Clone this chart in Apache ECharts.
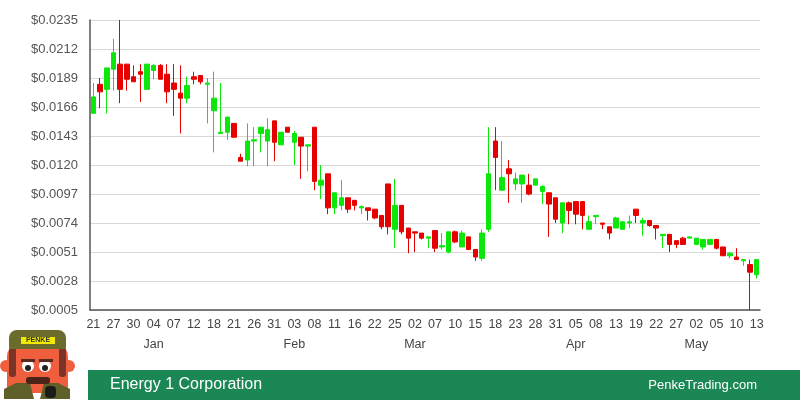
<!DOCTYPE html>
<html>
<head>
<meta charset="utf-8">
<script src="https://cdn.jsdelivr.net/npm/echarts@6/dist/echarts.min.js"></script>
<style>
html,body{margin:0;padding:0;background:#fff;}
#chart{width:800px;height:400px;}
</style>
</head>
<body>
<div id="chart"></div>
<script>
const dates = [
'2021-12-21','2021-12-22','2021-12-23','2021-12-27','2021-12-28','2021-12-29','2021-12-30','2021-12-31',
'2022-01-03','2022-01-04','2022-01-05','2022-01-06','2022-01-07','2022-01-10','2022-01-11','2022-01-12',
'2022-01-13','2022-01-14','2022-01-18','2022-01-19','2022-01-20','2022-01-21','2022-01-24','2022-01-25',
'2022-01-26','2022-01-27','2022-01-28','2022-01-31','2022-02-01','2022-02-02','2022-02-03','2022-02-04',
'2022-02-07','2022-02-08','2022-02-09','2022-02-10','2022-02-11','2022-02-14','2022-02-15','2022-02-16',
'2022-02-17','2022-02-18','2022-02-22','2022-02-23','2022-02-24','2022-02-25','2022-02-28','2022-03-01',
'2022-03-02','2022-03-03','2022-03-04','2022-03-07','2022-03-08','2022-03-09','2022-03-10','2022-03-11',
'2022-03-14','2022-03-15','2022-03-16','2022-03-17','2022-03-18','2022-03-21','2022-03-22','2022-03-23',
'2022-03-24','2022-03-25','2022-03-28','2022-03-29','2022-03-30','2022-03-31','2022-04-01','2022-04-04',
'2022-04-05','2022-04-06','2022-04-07','2022-04-08','2022-04-11','2022-04-12','2022-04-13','2022-04-14',
'2022-04-18','2022-04-19','2022-04-20','2022-04-21','2022-04-22','2022-04-25','2022-04-26','2022-04-27',
'2022-04-28','2022-04-29','2022-05-02','2022-05-03','2022-05-04','2022-05-05','2022-05-06','2022-05-09',
'2022-05-10','2022-05-11','2022-05-12','2022-05-13'
];
const opens = [
.0161,.0184,.0180,.0196,.0200,.0200,.0190,.0194,.0180,.0195,
.0199,.0192,.0185,.0177,.0173,.0190,.0191,.0184,.0163,.0145,
.0146,.0153,.0126,.0124,.0139,.0145,.0139,.0155,.0136,.0150,
.0138,.0142,.0135,.0150,.0104,.0113,.0086,.0088,.0094,.0092,
.0086,.0086,.0085,.0080,.0105,.0069,.0088,.0070,.0067,.0066,
.0062,.0068,.0055,.0051,.0067,.0055,.0063,.0053,.0046,.0069,
.0139,.0100,.0117,.0105,.0105,.0104,.0104,.0099,.0098,.0094,
.0074,.0090,.0091,.0091,.0069,.0079,.0074,.0071,.0070,.0069,
.0074,.0085,.0074,.0076,.0072,.0064,.0065,.0060,.0062,.0062,
.0057,.0055,.0057,.0061,.0055,.0048,.0047,.0044,.0041,.0033
];
const closes = [
.0174,.0178,.0197,.0209,.0180,.0188,.0186,.0192,.0200,.0199,
.0188,.0178,.0180,.0173,.0183,.0188,.0186,.0185,.0173,.0146,
.0158,.0142,.0123,.0139,.0140,.0150,.0148,.0138,.0146,.0146,
.0145,.0135,.0136,.0107,.0108,.0086,.0098,.0094,.0085,.0088,
.0087,.0084,.0078,.0071,.0071,.0088,.0067,.0062,.0066,.0062,
.0063,.0054,.0056,.0067,.0059,.0066,.0053,.0047,.0066,.0113,
.0126,.0110,.0113,.0109,.0112,.0097,.0109,.0103,.0089,.0077,
.0090,.0084,.0081,.0080,.0075,.0080,.0073,.0066,.0078,.0075,
.0075,.0080,.0076,.0072,.0070,.0065,.0057,.0057,.0057,.0063,
.0062,.0061,.0061,.0054,.0048,.0050,.0045,.0045,.0035,.0045
];
const lows = [
.0161,.0165,.0161,.0179,.0169,.0179,.0186,.0170,.0180,.0188,
.0188,.0169,.0159,.0145,.0169,.0184,.0184,.0153,.0130,.0145,
.0140,.0142,.0123,.0119,.0119,.0130,.0119,.0123,.0136,.0146,
.0120,.0109,.0115,.0100,.0093,.0081,.0081,.0084,.0082,.0084,
.0081,.0076,.0077,.0069,.0065,.0054,.0065,.0050,.0051,.0061,
.0054,.0051,.0053,.0050,.0058,.0055,.0053,.0044,.0044,.0067,
.0100,.0100,.0090,.0100,.0090,.0096,.0104,.0089,.0063,.0074,
.0066,.0073,.0073,.0069,.0069,.0073,.0069,.0061,.0070,.0069,
.0070,.0074,.0064,.0071,.0061,.0054,.0051,.0054,.0057,.0062,
.0057,.0053,.0057,.0053,.0048,.0046,.0045,.0040,.0005,.0030
];
const highs = [
.0185,.0189,.0197,.0220,.0235,.0200,.0199,.0200,.0200,.0200,
.0200,.0200,.0200,.0199,.0190,.0194,.0191,.0189,.0194,.0185,
.0158,.0153,.0129,.0153,.0150,.0150,.0157,.0155,.0146,.0150,
.0147,.0142,.0136,.0150,.0120,.0113,.0098,.0108,.0094,.0092,
.0088,.0086,.0085,.0080,.0105,.0109,.0088,.0070,.0067,.0066,
.0063,.0068,.0066,.0067,.0068,.0068,.0063,.0053,.0069,.0150,
.0150,.0139,.0124,.0114,.0112,.0113,.0109,.0104,.0098,.0094,
.0090,.0091,.0091,.0091,.0080,.0080,.0074,.0071,.0079,.0075,
.0080,.0085,.0078,.0076,.0072,.0065,.0065,.0060,.0063,.0063,
.0062,.0061,.0061,.0061,.0055,.0051,.0054,.0045,.0045,.0045
];
const yTicks = {min: 0.0005, max: 0.0235, step: 0.0023};
const monthNames = ['Jan','Feb','Mar','Apr','May','Jun','Jul','Aug','Sep','Oct','Nov','Dec'];
const title = 'Energy 1 Corporation';
const site = 'PenkeTrading.com';

const candles = dates.map((d, i) => [opens[i], closes[i], lows[i], highs[i]]);
const FONT = '"Liberation Sans", Arial, sans-serif';

const chart = echarts.init(document.getElementById('chart'), null, {renderer: 'canvas'});
chart.setOption({
  animation: false,
  backgroundColor: '#ffffff',
  textStyle: {fontFamily: FONT},
  grid: {left: 90, right: 40, top: 20, bottom: 90},
  xAxis: {
    type: 'category',
    data: dates,
    boundaryGap: true,
    axisLine: {show: true, lineStyle: {color: '#555', width: 1.5}},
    axisTick: {show: false},
    splitLine: {show: false},
    axisLabel: {
      interval: 2,
      margin: 8,
      color: '#444',
      fontFamily: FONT,
      formatter: function (value, idx) {
        const day = value.slice(8, 10);
        const m = parseInt(value.slice(5, 7), 10);
        let s = '{d|' + day + '}';
        if (idx > 0 && idx % 3 === 0) {
          const pm = parseInt(dates[idx - 3].slice(5, 7), 10);
          if (pm !== m) s += '\n{m|' + monthNames[m - 1] + '}';
        }
        return s;
      },
      rich: {
        d: {fontSize: 12.5, color: '#444', lineHeight: 14, fontFamily: FONT},
        m: {fontSize: 12.5, color: '#444', lineHeight: 26, fontFamily: FONT}
      }
    }
  },
  yAxis: {
    type: 'value',
    min: yTicks.min,
    max: yTicks.max,
    interval: yTicks.step,
    axisLine: {show: true, lineStyle: {color: '#555', width: 1.5}},
    axisTick: {show: false},
    splitLine: {show: true, lineStyle: {color: '#d8d8d8', width: 1}},
    axisLabel: {
      margin: 12,
      color: '#555',
      fontSize: 13,
      fontFamily: FONT,
      formatter: v => '$' + v.toFixed(4)
    }
  },
  series: [{
    type: 'candlestick',
    data: candles,
    barWidth: 5,
    itemStyle: {
      color: '#0be60b',
      color0: '#e60000',
      borderColor: '#0be60b',
      borderColor0: '#e60000',
      borderWidth: 1
    }
  }],
  graphic: [
    {type: 'rect', left: 88, top: 370, shape: {width: 712, height: 30}, style: {fill: '#1a8754'}, z: 10},
    {type: 'text', left: 110, top: 377, style: {text: title, fill: '#ffffff', font: '16px ' + FONT}, z: 11},
    {type: 'text', right: 43, top: 379, style: {text: site, fill: '#ffffff', font: '13px ' + FONT}, z: 11},
    // mascot
    {type: 'group', left: 0, top: 330, z: 12, children: [
      {type: 'circle', shape: {cx: 12, cy: 37, r: 6}, style: {fill: '#ef5f3e'}},
      {type: 'circle', shape: {cx: 75, cy: 37, r: 6}, style: {fill: '#ef5f3e'}},
      {type: 'rect', shape: {x: 13, y: 14, width: 61, height: 50, r: [14, 14, 6, 6]}, style: {fill: '#ef5f3e'}},
      {type: 'rect', shape: {x: 15, y: 18, width: 7, height: 30, r: 3}, style: {fill: '#7a3428'}},
      {type: 'rect', shape: {x: 65, y: 18, width: 7, height: 30, r: 3}, style: {fill: '#7a3428'}},
      {type: 'polygon', shape: {points: [[22, 54], [36, 54], [40, 70], [10, 70], [10, 60]]}, style: {fill: '#5f5f2a'}},
      {type: 'polygon', shape: {points: [[50, 54], [64, 54], [76, 60], [76, 70], [46, 70]]}, style: {fill: '#5f5f2a'}},
      {type: 'rect', shape: {x: 15, y: 1, width: 57, height: 19, r: [8, 8, 2, 2]}, style: {fill: '#6b6b2b'}},
      {type: 'rect', shape: {x: 27, y: 8, width: 34, height: 7}, style: {fill: '#f1e900'}},
      {type: 'text', style: {x: 44, y: 11.5, text: 'PENKE', fill: '#333', font: 'bold 7px ' + FONT, align: 'center', verticalAlign: 'middle'}},
      {type: 'circle', shape: {cx: 34, cy: 37, r: 6}, style: {fill: '#ffffff'}},
      {type: 'circle', shape: {cx: 51, cy: 37, r: 6}, style: {fill: '#ffffff'}},
      {type: 'circle', shape: {cx: 34, cy: 39, r: 3}, style: {fill: '#222'}},
      {type: 'circle', shape: {cx: 51, cy: 39, r: 3}, style: {fill: '#222'}},
      {type: 'rect', shape: {x: 27, y: 30, width: 14, height: 3}, style: {fill: '#5a2a20'}},
      {type: 'rect', shape: {x: 45, y: 30, width: 14, height: 3}, style: {fill: '#5a2a20'}},
      {type: 'rect', shape: {x: 32, y: 48, width: 24, height: 7, r: 3}, style: {fill: '#4a2418'}},
      {type: 'rect', shape: {x: 51, y: 57, width: 11, height: 12, r: 4}, style: {fill: '#1c1c1c'}}
    ]}
  ]
});
</script>
</body>
</html>
